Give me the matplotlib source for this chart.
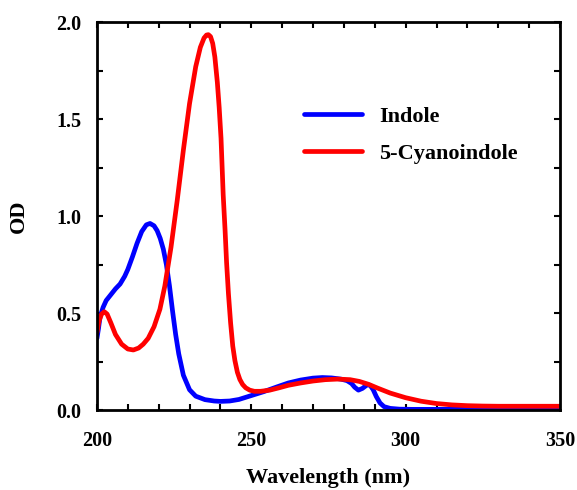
import numpy as np
import matplotlib.pyplot as plt
from matplotlib.ticker import MultipleLocator

# spectra (wavelength nm, OD)
indole_wl = [200, 200.5, 201, 202, 203, 204, 205, 206, 207.5, 209, 210, 211.5, 213, 214.5, 216,
             217.2, 218.5, 219.5, 220.5, 221.5, 222.5, 223.5, 224.5, 225.5, 226.5, 228, 230,
             232, 235, 238, 240, 243, 246, 250, 254, 258, 262, 266, 270, 273, 276, 279, 281,
             282.5, 283.5, 284.7, 286, 287.5, 288.5, 289.5, 290.5, 291.7, 293, 295, 298, 302,
             310, 320, 330, 340, 350]
indole_od = [0.37, 0.42, 0.48, 0.53, 0.565, 0.585, 0.605, 0.625, 0.65, 0.69, 0.725, 0.79, 0.86, 0.92, 0.955,
             0.962, 0.95, 0.925, 0.885, 0.83, 0.75, 0.64, 0.51, 0.39, 0.29, 0.18, 0.105,
             0.072, 0.054, 0.047, 0.045, 0.047, 0.055, 0.075, 0.095, 0.118, 0.14, 0.155, 0.165, 0.168, 0.166, 0.16, 0.152,
             0.137, 0.118, 0.103, 0.112, 0.13, 0.128, 0.105, 0.07, 0.037, 0.018, 0.009, 0.005, 0.004,
             0.004, 0.004, 0.004, 0.004, 0.004]

cyano_wl = [200, 200.7, 201.5, 202.4, 203.3, 204.5, 206, 208, 210, 211.8, 213.5, 215, 216.6,
            218.5, 220.4, 222, 224, 226, 228, 230, 232, 233.5, 234.7, 235.5, 236.1, 236.8,
            237.5, 238.2, 239, 239.6, 240.2, 240.9, 241.5, 242, 242.6, 243.3, 244, 244.7,
            245.5, 246.3, 247.2, 248.2, 249.5, 251, 253, 256, 259, 262, 266, 270, 274, 278,
            282, 285, 288, 291, 295, 300, 305, 310, 315, 320, 325, 330, 340, 350]
cyano_od = [0.40, 0.46, 0.495, 0.507, 0.495, 0.45, 0.39, 0.34, 0.315, 0.31, 0.32, 0.34, 0.37,
            0.43, 0.52, 0.64, 0.84, 1.08, 1.34, 1.58, 1.77, 1.87, 1.918, 1.933, 1.935, 1.925,
            1.89, 1.82, 1.69, 1.56, 1.40, 1.11, 0.93, 0.76, 0.60, 0.45, 0.33, 0.255,
            0.195, 0.158, 0.132, 0.115, 0.103, 0.097, 0.097, 0.103, 0.115, 0.128, 0.14, 0.15, 0.157, 0.16,
            0.157, 0.148, 0.133, 0.113, 0.088, 0.064, 0.046, 0.034, 0.027, 0.023, 0.021, 0.02, 0.02, 0.02]

plt.rcParams['font.family'] = 'Liberation Serif'
plt.rcParams['font.weight'] = 'bold'

fig = plt.figure(figsize=(5.77, 4.9), dpi=100)
ax = fig.add_axes([0.168, 0.163, 0.8025, 0.792])

ax.plot(indole_wl, indole_od, color='#0000ff', lw=3.4, label='Indole',
        solid_capstyle='round', solid_joinstyle='round')
ax.plot(cyano_wl, cyano_od, color='#ff0000', lw=3.4, label='5-Cyanoindole',
        solid_capstyle='round', solid_joinstyle='round')

ax.set_xlim(200, 350)
ax.set_ylim(0, 2.0)
ax.xaxis.set_major_locator(MultipleLocator(50))
ax.xaxis.set_minor_locator(MultipleLocator(10))
ax.yaxis.set_major_locator(MultipleLocator(0.5))
ax.yaxis.set_minor_locator(MultipleLocator(0.25))
ax.yaxis.set_major_formatter(plt.FormatStrFormatter('%.1f'))

for s in ax.spines.values():
    s.set_linewidth(2)
ax.tick_params(which='both', direction='in', top=True, right=True, length=4.5, width=1.5,
               labelsize=14.5)
ax.tick_params(axis='x', which='major', pad=15)
ax.tick_params(axis='y', which='major', pad=11)

ax.set_xlabel('Wavelength (nm)', fontsize=16, fontweight='bold', labelpad=12)
ax.set_ylabel('OD', fontsize=16, fontweight='bold', labelpad=20)

ax.legend(loc='upper left', bbox_to_anchor=(0.405, 0.835), frameon=False, fontsize=16,
          handlelength=2.6, handletextpad=0.75, labelspacing=0.75)

fig.savefig('out.png', dpi=100)
